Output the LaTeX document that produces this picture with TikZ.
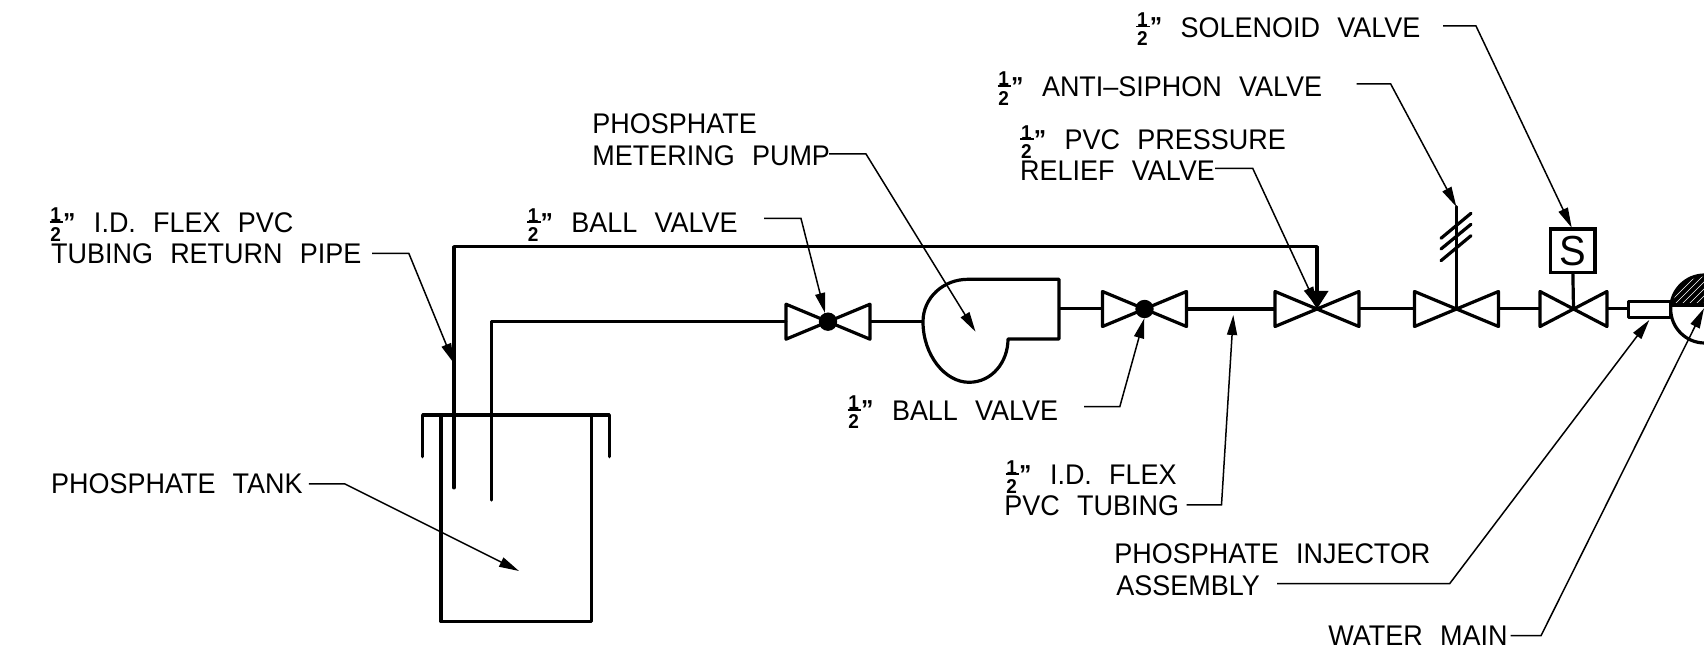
\documentclass[tikz,border=0pt]{standalone}
\usepackage{fontspec}
\setmainfont[FakeStretch=0.95,WordSpace=2.3]{Liberation Sans}
\usetikzlibrary{arrows.meta}
\newcommand\Fr{\makebox[21.8pt][l]{\fontsize{10}{10}\selectfont\bfseries
  \makebox[0pt][l]{\raisebox{5.4pt}{1}}%
  \makebox[0pt][l]{\hspace{-0.4pt}\raisebox{5.0pt}{\rule{6.8pt}{0.8pt}}}%
  \makebox[0pt][l]{\raisebox{-4.2pt}{2}}%
  \hspace{6.4pt}\raisebox{0.8pt}{\fontsize{13}{13}\selectfont ”}}}
\tikzset{
  x=0.5pt,y=-0.5pt,
  pipe/.style={line width=1.6pt,line join=round,line cap=round},
  thinpipe/.style={line width=1.5pt,line cap=butt},
  fatpipe/.style={line width=1.8pt,line join=round,line cap=round},
  leader/.style={line width=0.75pt,line join=miter,-{Triangle[length=10pt,width=5pt]}},
  lbl/.style={anchor=base west,inner sep=0pt,font=\fontsize{14.2}{14.2}\selectfont},
  pics/valve/.style={code={
    \draw[pipe] (-#1,-17.5) -- (#1,17.5) -- (#1,-17.5) -- (-#1,17.5) -- cycle;
  }}
}
\begin{document}
\begin{tikzpicture}
\useasboundingbox (0,0) rectangle (1704,657);
% valve centres
\coordinate (v1) at (828,321.7);
\coordinate (v2) at (1144.5,309);
\coordinate (v3) at (1317,309);
\coordinate (v4) at (1456.5,309);
\coordinate (v5) at (1573.5,309);
% tank
\draw[pipe] (441,415) -- (441,621.7) -- (591.5,621.7) -- (591.5,415);
\draw[pipe] (422.6,456.7) -- (422.6,415) -- (609.3,415) -- (609.3,456.7);
% pipes
\draw[pipe] (491.4,500) -- (491.4,321.7) -- (785.7,321.7);
\draw[fatpipe,-{Triangle[length=9pt,width=11pt]}] (453.9,487.7) -- (453.9,246.7) -- (1317,246.7) -- (v3);
\draw[thinpipe] (870,321.7) -- (923,321.7);
\draw[thinpipe] (1059,309) -- (1103,309);
\draw[line width=2pt] (1187,309) -- (1275,309);
\draw[thinpipe] (1359,309) -- (1414,309);
\draw[thinpipe] (1498.7,309) -- (1540,309);
\draw[thinpipe] (1607,309) -- (1628.3,309);
% valves
\pic at (v1) {valve={42}};
\pic at (v2) {valve={42}};
\pic at (v3) {valve={42}};
\pic at (v4) {valve={42}};
\pic at (v5) {valve={33.5}};
\fill (v1) circle[radius=4.6pt];
\fill (v2) circle[radius=4.6pt];
% pump
\draw[pipe] (1059,279.3) -- (968,279.3)
  .. controls (943,279.3) and (923,298) .. (923,321.7)
  .. controls (923,355) and (945,382.3) .. (969,382.3)
  .. controls (992,382.3) and (1008,362) .. (1008,339)
  -- (1059,339) -- cycle;
% anti-siphon
\draw[pipe] (v4) -- (1456.5,206.7);
\draw[pipe] (1441,238.3) -- (1471,213.3);
\draw[pipe] (1441,249) -- (1471,224.3);
\draw[pipe] (1441,260.7) -- (1471,235.7);
% solenoid
\node[draw,line width=1.6pt,inner sep=0pt,minimum width=22.1pt,minimum height=21.8pt,font=\fontsize{21}{21}\selectfont] (sbox) at (1572.9,250.9) {S};
\draw[pipe] (sbox.south) -- (v5);
% injector and main
\coordinate (main) at (1704.7,309);
\begin{scope}
  \clip (1660,270) rectangle (1704,305);
  \fill (main) circle[radius=17pt];
  \foreach \d in {0,7,...,70} {
    \draw[white,line width=0.3pt] (1660+\d,312) -- (1660+\d+42,270);
  }
\end{scope}
\draw[pipe] (main) circle[radius=17pt];
\draw[pipe] (1670.7,305) -- (1704,305);
\draw[pipe,fill=white] (1628.3,301.7) rectangle (1670.7,317.3);
% leaders
\coordinate (tSol) at (1571.7,227.7);
\coordinate (tAnti) at (1456.3,206.7);
\coordinate (tRel) at (1317,306.7);
\coordinate (tPump) at (975.5,331.7);
\coordinate (tB1) at (825,313);
\coordinate (tB2) at (1144.3,318.3);
\coordinate (tFlex) at (1233.3,315);
\coordinate (tInj) at (1649.3,320);
\coordinate (tMain) at (1704,308.3);
\coordinate (tRet) at (453.9,363.3);
\coordinate (tTank) at (519,571);
\draw[leader] (1443,26) -- (1476,26) -- (tSol);
\draw[leader] (1356.7,84) -- (1390.7,84) -- (tAnti);
\draw[leader] (1215,168.3) -- (1252.7,168.3) -- (tRel);
\draw[leader] (829,154) -- (866,154) -- (tPump);
\draw[leader] (764,218.5) -- (801,218.5) -- (tB1);
\draw[leader] (1084,406.7) -- (1119.8,406.7) -- (tB2);
\draw[leader] (1186.7,505) -- (1221.5,505) -- (tFlex);
\draw[leader] (1277,583.6) -- (1449.7,583.6) -- (tInj);
\draw[leader] (1510.5,635.7) -- (1541,635.7) -- (tMain);
\draw[leader] (372,253.3) -- (408.8,253.3) -- (tRet);
\draw[leader] (308.8,484) -- (345,484) -- (tTank);
% labels
\node[lbl] (a1) at (1136.7,37.3) {\Fr SOLENOID VALVE};
\node[lbl] (a2) at (998,96.7) {\Fr ANTI–SIPHON VALVE};
\node[lbl] (a3) at (1020.7,150) {\Fr PVC PRESSURE};
\node[lbl] (a4) at (1019.7,181) {RELIEF VALVE};
\node[lbl] (a5) at (592,134) {PHOSPHATE};
\node[lbl] (a6) at (592,166) {METERING PUMP};
\node[lbl] (a7) at (527.4,233) {\Fr BALL VALVE};
\node[lbl] (a8) at (50,232.7) {\Fr I.D. FLEX PVC};
\node[lbl] (a9) at (50.7,263.3) {TUBING RETURN PIPE};
\node[lbl] (a10) at (50.7,494) {PHOSPHATE TANK};
\node[lbl] (a11) at (848,420.6) {\Fr BALL VALVE};
\node[lbl] (a12) at (1006,485) {\Fr I.D. FLEX};
\node[lbl] (a13) at (1004,516) {PVC TUBING};
\node[lbl] (a14) at (1114,564) {PHOSPHATE INJECTOR};
\node[lbl] (a15) at (1116,595.7) {ASSEMBLY};
\node[lbl] (a16) at (1328,645.7) {WATER MAIN};
\end{tikzpicture}
\end{document}
